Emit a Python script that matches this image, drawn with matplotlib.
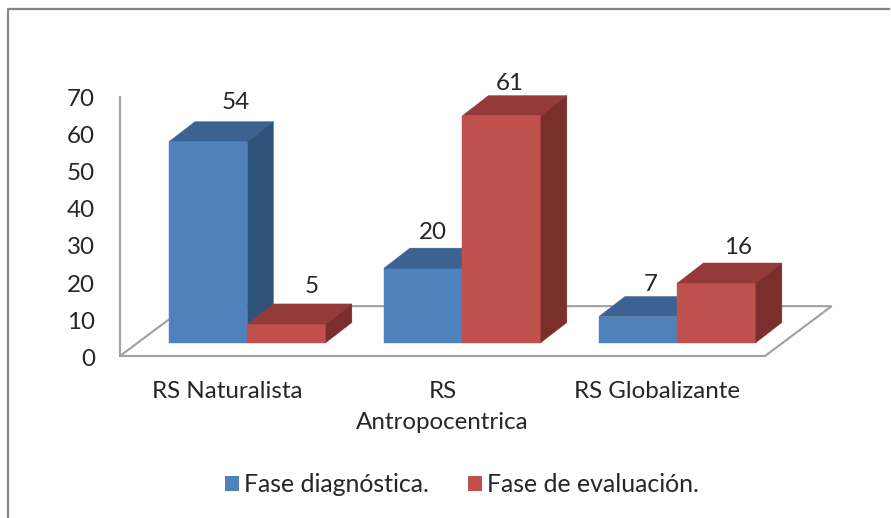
import matplotlib
matplotlib.use("Agg")
import matplotlib.pyplot as plt
from matplotlib.lines import Line2D
from matplotlib.patches import Patch, Polygon
from matplotlib.transforms import ScaledTranslation

plt.rcParams['font.family'] = ['Lato', 'DejaVu Sans']

categories = ['RS Naturalista', 'RS\nAntropocentrica', 'RS Globalizante']
series_names = ['Fase diagnóstica.', 'Fase de evaluación.']
diagnostica = [54, 20, 7]
evaluacion = [5, 61, 16]
y_ticks = [0, 10, 20, 30, 40, 50, 60, 70]

# label nudges in pixels from the back top corner, Excel placed them unevenly
diagnostica_nudge = [(28, 19.5), (10, 15.5), (13, 11.5)]
evaluacion_nudge = [(25, 17.5), (8, 12.5), (21, 15.5)]

W, H = 891, 518
TEXT_COLOR = '#262626'
GRID_COLOR = '#A0A0A0'
FONT_SIZE = 17.4
LEGEND_SIZE = 17.9

# fake 3D geometry, in data units (1 x unit = one category)
BAR_W = 0.365
BAR_SHIFT = 0.0925
DEPTH_X = 0.121
DEPTH_Y = 5.4
BASE_Y = 3.6
FLOOR_X = 0.31
FLOOR_Y = 13.4


def draw_bar(ax, x, value, colors):
    front, top, side = colors
    y1 = BASE_Y + value
    faces = [
        ([(x, BASE_Y), (x + BAR_W, BASE_Y), (x + BAR_W, y1), (x, y1)], front),
        ([(x, y1), (x + BAR_W, y1), (x + BAR_W + DEPTH_X, y1 + DEPTH_Y), (x + DEPTH_X, y1 + DEPTH_Y)], top),
        ([(x + BAR_W, BASE_Y), (x + BAR_W + DEPTH_X, BASE_Y + DEPTH_Y), (x + BAR_W + DEPTH_X, y1 + DEPTH_Y), (x + BAR_W, y1)], side),
    ]
    for pts, color in faces:
        ax.add_patch(Polygon(pts, closed=True, facecolor=color, edgecolor=color, lw=0.3, clip_on=False, zorder=3))


fig = plt.figure(figsize=(W / 100, H / 100), dpi=100)
ax = fig.add_axes([120 / W, 1 - 356 / H, 645 / W, 260.4 / H])
ax.set_xlim(0, 3)
ax.set_ylim(0, 70)

for s in ax.spines.values():
    s.set_visible(False)

# wall line and floor
ax.plot([0, 0], [0, 69.5], color=GRID_COLOR, lw=1.5, clip_on=False, zorder=1)
floor = Polygon([(0, 0), (3, 0), (3 + FLOOR_X, FLOOR_Y), (FLOOR_X, FLOOR_Y)], closed=True,
                fill=False, edgecolor=GRID_COLOR, lw=1.5, clip_on=False, zorder=1)
ax.add_patch(floor)

blue = ('#4F81BD', '#3C6291', '#2F5279')
red = ('#C0504D', '#943A38', '#7B2F2D')

for i in range(len(categories)):
    x0 = i + 0.5 + BAR_SHIFT - BAR_W
    x1 = i + 0.5 + BAR_SHIFT
    draw_bar(ax, x0, diagnostica[i], blue)
    draw_bar(ax, x1, evaluacion[i], red)
    for x, v, nudge in [(x0, diagnostica[i], diagnostica_nudge[i]), (x1, evaluacion[i], evaluacion_nudge[i])]:
        ax.annotate(str(v), (x + BAR_W / 2, BASE_Y + v + DEPTH_Y), xytext=nudge, textcoords='offset pixels',
                    ha='center', va='center', fontsize=FONT_SIZE, color=TEXT_COLOR, annotation_clip=False, zorder=5)

ax.set_yticks(y_ticks)
ax.set_yticklabels([str(t) for t in y_ticks], fontsize=FONT_SIZE, color=TEXT_COLOR)
ax.set_xticks([0.5, 1.5, 2.5])
ax.set_xticklabels(categories, fontsize=FONT_SIZE, color=TEXT_COLOR, linespacing=1.6)
ax.tick_params(axis='y', length=0, pad=18)
ax.tick_params(axis='x', length=0, pad=18)

# tick labels sit a little low in the original
for lbl in ax.get_yticklabels():
    lbl.set_transform(lbl.get_transform() + ScaledTranslation(0, -1.5 / 100, fig.dpi_scale_trans))

handles = [Patch(facecolor=blue[0]), Patch(facecolor=red[0])]
fig.legend(handles, series_names, loc='center', bbox_to_anchor=(462 / W, 1 - 485 / H), ncol=2, frameon=False,
           fontsize=LEGEND_SIZE, handlelength=0.56, handleheight=0.56, handletextpad=0.2, columnspacing=1.6,
           labelcolor=TEXT_COLOR)

# chart frame, only top and left fall inside the crop
fig.add_artist(Line2D([8 / W, 8 / W, 889 / W], [0, 1 - 9 / H, 1 - 9 / H], color='#868686', lw=1.6))

fig.savefig('out.png', dpi=100)
